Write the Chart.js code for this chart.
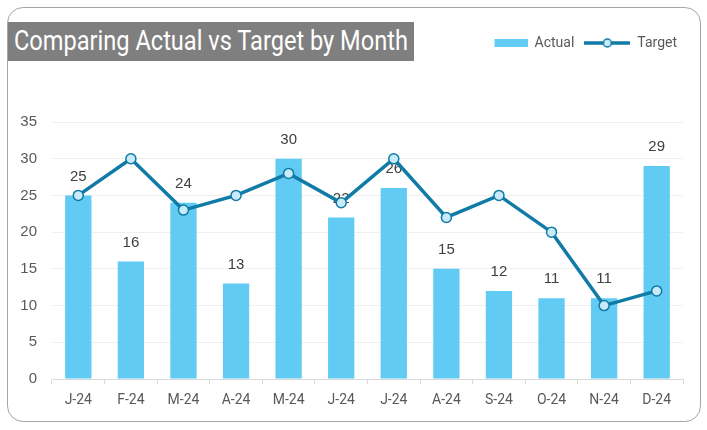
<!DOCTYPE html>
<html>
<head>
<meta charset="utf-8">
<script src="https://cdn.jsdelivr.net/npm/chart.js@4"></script>
<style>
  html, body { margin: 0; padding: 0; background: #ffffff; }
  #card {
    position: absolute; left: 7px; top: 7px; width: 692px; height: 413px;
    border: 1px solid #a6a6a6; border-radius: 16px; background: #fff;
  }
  #title {
    position: absolute; left: 8px; top: 22px; width: 406px; height: 39px;
    background: #7f7f7f; overflow: hidden;
  }
  #title span {
    position: absolute; left: 6px; top: 0; display: inline-block;
    color: #fff; font-family: 'Roboto', sans-serif; font-size: 27px;
    line-height: 39px; white-space: nowrap; transform-origin: 0 50%;
  }
  #wrap { position: absolute; left: 0; top: 0; width: 707px; height: 430px; }
</style>
</head>
<body>
<div id="card"></div>
<div id="wrap"><canvas id="chart"></canvas></div>
<div id="title"><span id="titleText">Comparing Actual vs Target by Month</span></div>
<script>
const months = ['J-24', 'F-24', 'M-24', 'A-24', 'M-24', 'J-24', 'J-24', 'A-24', 'S-24', 'O-24', 'N-24', 'D-24'];
const actual = [25, 16, 24, 13, 30, 22, 26, 15, 12, 11, 11, 29];
const target = [25, 30, 23, 25, 28, 24, 30, 22, 25, 20, 10, 12];

const barColor = '#61cbf4';
const lineColor = '#0f7ba6';
const markerFill = '#c9eaf8';

// squeeze the title to the narrow look of the original
const tt = document.getElementById('titleText');
tt.style.transform = 'scaleX(' + (394 / tt.offsetWidth) + ')';

// little legend icons
function barIcon() {
    const c = document.createElement('canvas');
    c.width = 46; c.height = 12;
    const g = c.getContext('2d');
    g.fillStyle = barColor;
    g.fillRect(13, 2, 33, 8);
    return c;
}
function lineIcon() {
    const c = document.createElement('canvas');
    c.width = 46; c.height = 12;
    const g = c.getContext('2d');
    g.strokeStyle = lineColor;
    g.lineWidth = 3.5;
    g.beginPath(); g.moveTo(0, 6); g.lineTo(46, 6); g.stroke();
    g.beginPath(); g.arc(23, 6, 4, 0, Math.PI * 2);
    g.fillStyle = markerFill; g.fill();
    g.lineWidth = 1.5; g.stroke();
    return c;
}
const icons = [barIcon(), lineIcon()];

const barLabels = {
    id: 'barLabels',
    afterDatasetDraw(chart, args) {
        if (args.index !== 0) return;
        const ctx = chart.ctx;
        ctx.save();
        ctx.font = '15px "Liberation Sans", Arial, sans-serif';
        ctx.fillStyle = '#404040';
        ctx.textAlign = 'center';
        ctx.textBaseline = 'middle';
        args.meta.data.forEach((bar, i) => {
            ctx.fillText(actual[i], bar.x, bar.y - 19);
        });
        ctx.restore();
    }
};

const moveLegend = {
    id: 'moveLegend',
    afterLayout(chart) {
        const lg = chart.legend;
        const h = lg.bottom - lg.top;
        lg.top = 26;
        lg.bottom = 26 + h;
        lg.left += 4;
        lg.right += 4;
    }
};

const ctx = document.getElementById('chart').getContext('2d');
new Chart(ctx, {
    type: 'bar',
    data: {
        labels: months,
        datasets: [{
            label: 'Actual',
            data: actual,
            backgroundColor: barColor,
            barPercentage: 0.5,
            categoryPercentage: 1,
            order: 1
        }, {
            type: 'line',
            label: 'Target',
            data: target,
            borderColor: lineColor,
            borderWidth: 3.5,
            pointRadius: 5,
            pointBorderWidth: 1.5,
            pointBackgroundColor: markerFill,
            pointBorderColor: lineColor,
            tension: 0,
            order: 0
        }]
    },
    options: {
        responsive: true,
        maintainAspectRatio: false,
        animation: false,
        layout: { padding: { left: 8, right: 24, top: 88, bottom: 8 } },
        scales: {
            x: {
                grid: { drawOnChartArea: false, drawTicks: true, tickLength: 5, color: '#d9d9d9' },
                border: { color: '#d9d9d9' },
                ticks: {
                    color: '#595959', padding: 8,
                    font: { family: "'Roboto', sans-serif", size: 14 }
                },
                afterFit(scale) { scale.height = 43; }
            },
            y: {
                min: 0, max: 35,
                ticks: {
                    stepSize: 5, color: '#595959', padding: 15,
                    font: { family: "'Liberation Sans', Arial, sans-serif", size: 15 }
                },
                grid: { color: '#efefef', drawTicks: false },
                border: { display: false },
                afterFit(scale) { scale.width = 44; }
            }
        },
        plugins: {
            legend: {
                position: 'top',
                align: 'end',
                labels: {
                    usePointStyle: true,
                    pointStyleWidth: 46,
                    padding: 10,
                    color: '#595959',
                    font: { family: "'Roboto', sans-serif", size: 14 },
                    sort: (a, b) => a.datasetIndex - b.datasetIndex,
                    generateLabels(chart) {
                        const items = Chart.defaults.plugins.legend.labels.generateLabels(chart);
                        items.forEach(it => { it.pointStyle = icons[it.datasetIndex]; });
                        return items;
                    }
                }
            },
            tooltip: { enabled: false }
        }
    },
    plugins: [barLabels, moveLegend]
});
</script>
</body>
</html>
